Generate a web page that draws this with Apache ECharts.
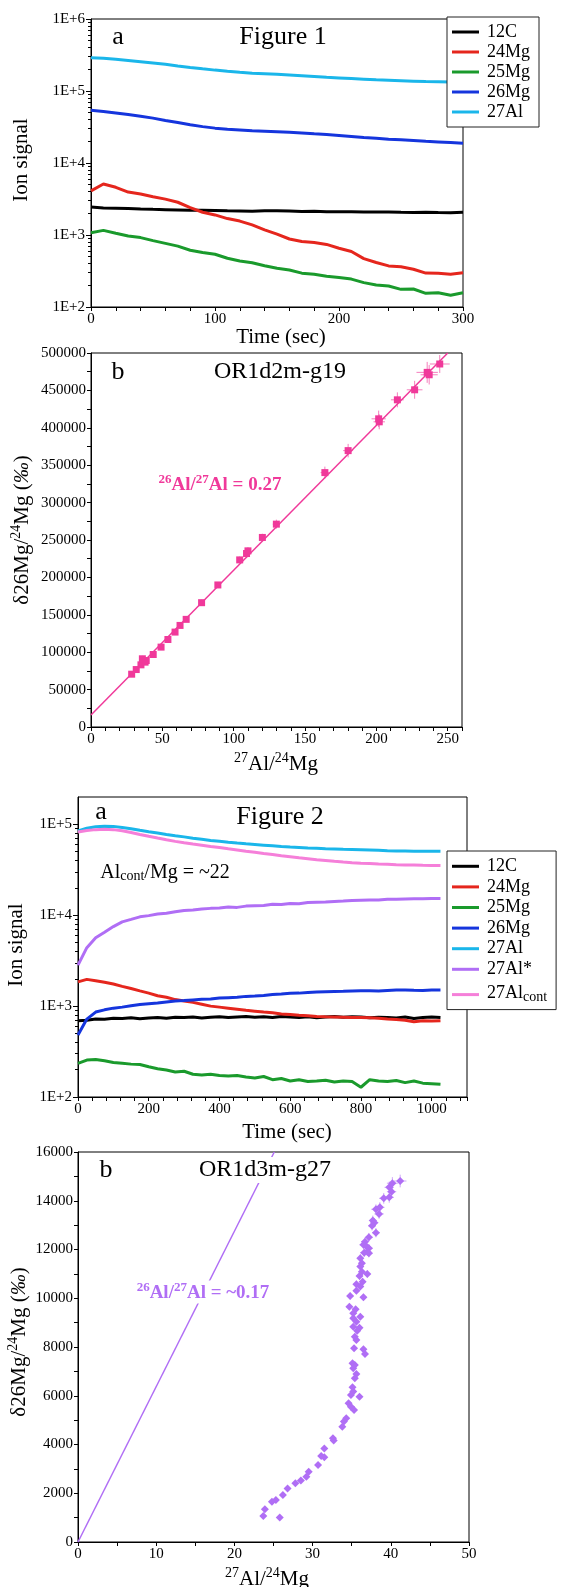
<!DOCTYPE html>
<html>
<head>
<meta charset="utf-8">
<script src="https://cdn.jsdelivr.net/npm/echarts@6/dist/echarts.min.js"></script>
<style>
  html, body { margin: 0; padding: 0; background: #fff; }
  #c { width: 561px; height: 1587px; }
</style>
</head>
<body>
<div id="c"></div>
<script>
// ---------- Figure 1a: ion signals vs time ----------
const fig1Time = [0,10,20,30,40,50,60,70,80,90,100,110,120,130,140,150,160,170,180,190,200,210,220,230,240,250,260,270,280,290,300];
const fig1C12  = [2450,2380,2360,2340,2300,2270,2250,2230,2210,2200,2190,2170,2160,2140,2170,2180,2150,2120,2130,2110,2100,2110,2090,2080,2090,2070,2060,2070,2050,2040,2070];
const fig1Mg24 = [4100,5100,4600,3950,3700,3400,3150,2850,2400,2070,1900,1690,1560,1380,1180,1030,880,810,785,740,655,590,470,415,372,362,335,296,294,286,300];
const fig1Mg25 = [1077,1160,1060,970,920,835,765,700,615,570,540,475,436,412,375,345,327,295,285,268,257,244,218,202,196,176,178,155,158,146,158];
const fig1Mg26 = [54000,52000,49500,47000,44500,42000,39000,36500,34000,32000,30500,29500,28800,28000,27600,27200,26800,26200,25400,24800,24100,23400,22600,22000,21400,21000,20500,20000,19600,19200,18800];
const fig1Al27 = [290000,285000,275000,265000,255000,245000,235000,222000,212000,203000,195000,188000,182000,177000,174000,171000,167000,163000,159000,155000,152000,149000,146000,143000,141000,139000,137000,135000,134000,133000,130000];

// ---------- Figure 2a: ion signals vs time ----------
const fig2Time = [0,25,50,75,100,125,150,175,200,225,250,275,300,325,350,375,400,425,450,475,500,525,550,575,600,625,650,675,700,725,750,775,800,825,850,875,900,925,950,975,1000,1025];
const fig2C12  = [690,700,720,715,735,730,745,725,740,750,735,755,750,760,740,755,765,750,760,770,755,765,750,770,760,750,765,745,760,770,755,765,760,745,755,750,740,760,730,750,760,750];
const fig2Mg24 = [1850,1970,1900,1830,1750,1650,1560,1470,1390,1300,1250,1180,1140,1100,1050,1000,975,950,925,900,880,860,845,820,810,795,785,770,762,760,755,750,750,745,735,720,712,700,672,690,685,692];
const fig2Mg25 = [234,255,258,250,240,235,230,228,215,205,198,188,192,178,175,178,172,170,172,166,162,168,155,160,150,155,148,150,153,146,150,148,128,155,150,148,152,144,150,142,140,138];
const fig2Mg26 = [480,720,860,910,950,975,1010,1040,1060,1080,1110,1140,1150,1170,1190,1200,1225,1240,1255,1280,1290,1310,1340,1360,1385,1390,1410,1430,1440,1450,1455,1470,1475,1480,1470,1490,1500,1505,1495,1490,1500,1500];
const fig2Al27 = [84400,90500,94000,95500,95000,92500,89500,86000,83000,80200,77500,75000,72800,70500,68500,66500,65000,63500,62200,61000,60000,59000,58000,57000,56200,55600,55000,54500,54000,53600,53200,52900,52600,52200,51800,51300,50900,50800,50700,50600,50600,50500];
const fig2Al27Star = [2820,4400,5650,6500,7500,8450,9000,9600,9900,10300,10500,10900,11300,11400,11700,11900,12000,12300,12200,12600,12700,12800,13200,13100,13500,13400,13800,13900,14000,14200,14300,14500,14600,14700,14700,15000,15000,15100,15200,15150,15300,15250];
const fig2Al27Cont = [82200,85500,87500,88200,87500,85000,81500,77500,74000,70800,67800,65000,62800,60800,59000,57200,55500,53800,52200,50600,49200,47800,46500,45200,44000,42800,41800,40800,40000,39200,38500,37900,37400,37000,36600,36300,36000,35800,35600,35400,35300,35200];

// ---------- Figure 1b: OR1d2m-g19 isochron  [27Al/24Mg, d26Mg, err x, err y] ----------
const g19Points = [
  [28.5,70600,0.8,2500],[31.7,76800,0.8,2500],[35.0,83100,1.0,3000],[36.0,91200,1.5,4000],
  [37.9,86700,1.2,3500],[38.7,88900,1.2,3500],[43.6,96900,1.0,3000],[49.1,106800,1.0,3000],
  [53.9,117000,1.0,3000],[58.9,126900,1.0,3500],[62.4,135800,1.0,3500],[66.7,143900,1.2,3500],
  [77.5,166200,1.2,4000],[88.9,189900,1.5,4000],[104.2,223400,1.5,4500],[109.0,231900,2.0,5000],
  [110.0,235500,2.0,5000],[120.1,253400,2.0,5000],[129.9,271200,2.5,6000],[163.9,340100,3.0,8000],
  [180.2,369500,3.5,9000],[201.6,412000,5.0,11000],[202.0,408000,4.0,10000],[214.7,437400,4.5,10000],
  [226.8,450800,5.5,12000],[235.6,474100,7.5,14000],[237.0,470900,6.0,13000],[244.4,485300,7.0,12000]
];
const g19Fit = [[0,16000],[250,500000]];

// ---------- Figure 2b: OR1d3m-g27  [27Al/24Mg, d26Mg, err x, err y] ----------
const g27Points = [
  [41.2,14810,0.8,260],[40.2,14720,0.7,250],[39.8,14550,0.6,240],[40.1,14370,0.6,230],
  [39.8,14140,0.6,220],[39.1,14100,0.6,220],[38.6,13730,0.6,210],[38.1,13650,0.6,200],
  [38.5,13460,0.6,200],[37.7,13190,0.5,200],[37.9,13100,0.5,190],[37.6,12970,0.5,190],
  [38.1,12690,0.5,190],[37.2,12500,0.5,180],[36.7,12320,0.5,180],[36.5,12190,0.5,180],
  [36.9,12120,0.5,180],[37.2,12050,0.5,170],[37.0,11910,0.5,170],[36.6,11870,0.5,170],
  [37.2,11850,0.5,170],[36.1,11640,0.4,160],[36.3,11440,0.4,160],[36.1,11300,0.4,160],
  [36.3,11090,0.4,150],[37.0,11000,0.4,150],[36.0,10910,0.4,150],[36.4,10680,0.4,150],
  [35.6,10570,0.4,150],[36.1,10480,0.4,140],[35.6,10310,0.4,140],[36.5,10040,0.4,140],
  [34.8,10090,0.4,140],[34.7,9650,0.4,140],[35.5,9550,0.4,130],[35.2,9380,0.4,130],
  [36.1,9240,0.4,130],[35.2,9180,0.4,130],[35.6,9040,0.4,130],[35.2,8830,0.3,120],
  [36.0,8790,0.3,120],[35.7,8670,0.3,120],[35.4,8420,0.3,120],[35.6,8290,0.3,120],
  [35.3,7950,0.3,110],[36.5,7910,0.3,110],[36.7,7710,0.3,110],[35.1,7330,0.3,110],
  [35.4,7260,0.3,110],[35.2,7130,0.3,100],[35.6,6890,0.3,100],[35.4,6720,0.3,100],
  [35.1,6350,0.3,90],[35.2,6170,0.3,90],[34.9,6030,0.3,90],[36.0,5960,0.3,90],
  [34.6,5690,0.2,80],[34.9,5550,0.2,80],[35.3,5420,0.2,80],[34.3,5080,0.2,70],
  [34.0,4940,0.2,70],[33.8,4730,0.2,70],[32.6,4260,0.2,60],[32.7,4160,0.2,60],
  [31.5,3840,0.2,60],[31.1,3530,0.2,50],[31.5,3480,0.2,50],[30.7,3160,0.2,50],
  [29.5,2880,0.2,50],[29.2,2680,0.2,40],[28.5,2520,0.2,40],[27.8,2410,0.2,40],
  [26.8,2200,0.2,40],[26.2,1930,0.2,40],[25.3,1720,0.2,30],[24.8,1650,0.2,30],
  [23.9,1340,0.2,30],[23.7,1070,0.2,30],[25.8,1010,0.2,30]
];
const g27Line = [[0,0],[25.1,16000]];

// ---------- tick labels ----------
const fig1LogLabels = [100,1000,10000,100000,1000000];
const fig2LogLabels = [100,1000,10000,100000];

// ---------- styling ----------
const SERIF = '"Liberation Serif","Times New Roman",serif';
const INK = '#000';
const COLORS = {
  C12: '#000000', Mg24: '#e5261d', Mg25: '#1a9a2c', Mg26: '#1535dd',
  Al27: '#1ab6ea', Al27Star: '#b06ef5', Al27Cont: '#f57fd9',
  g19: '#f0399a', g27: '#b06ef5'
};

function linAxis(grid, min, max, step, labelStep, extra) {
  return Object.assign({
    type: 'value', gridIndex: grid, min: min, max: max, interval: step,
    axisLine: { show: true, onZero: false, lineStyle: { color: INK, width: 1 } },
    axisTick: { show: true, length: 4, lineStyle: { color: INK } },
    axisLabel: { color: INK, fontFamily: SERIF, fontSize: 15, margin: 5,
      formatter: v => (Math.abs(v % labelStep) < 1e-9 ? String(v) : '') },
    splitLine: { show: false }
  }, extra || {});
}

function logAxis(grid, min, max, labels) {
  return {
    type: 'log', logBase: 10, gridIndex: grid, position: 'left', min: min, max: max,
    axisLine: { show: true, onZero: false, lineStyle: { color: INK, width: 1 } },
    axisTick: { show: true, length: 5, customValues: labels, lineStyle: { color: INK } },
    axisLabel: { customValues: labels, color: INK, fontFamily: SERIF, fontSize: 15, margin: 6,
      formatter: v => '1E+' + Math.round(Math.log10(v)) },
    splitLine: { show: false }
  };
}

function logMinorAxis(grid, min, max) {
  const ticks = [];
  for (let p = Math.floor(Math.log10(min)); p < Math.ceil(Math.log10(max)); p++) {
    for (let k = 2; k <= 9; k++) {
      const v = k * Math.pow(10, p);
      if (v > min && v < max) ticks.push(v);
    }
  }
  return {
    type: 'log', logBase: 10, gridIndex: grid, position: 'left', min: min, max: max,
    axisLine: { show: false }, axisLabel: { show: false }, splitLine: { show: false },
    axisTick: { show: true, length: 3, customValues: ticks, lineStyle: { color: INK } }
  };
}

function trace(name, times, values, color, xi, yi) {
  return {
    type: 'line', name: name, xAxisIndex: xi, yAxisIndex: yi,
    data: times.map((t, i) => [t, values[i]]),
    symbol: 'none', showSymbol: false, silent: true, z: 3,
    lineStyle: { color: color, width: 3 }, itemStyle: { color: color }
  };
}

function errorBars(points, color, xi, yi) {
  return {
    type: 'custom', xAxisIndex: xi, yAxisIndex: yi, data: points, silent: true, z: 3,
    encode: { x: 0, y: 1 },
    renderItem: function (params, api) {
      const x = api.value(0), y = api.value(1), ex = api.value(2), ey = api.value(3);
      const l = api.coord([x - ex, y]), r = api.coord([x + ex, y]);
      const b = api.coord([x, y - ey]), t = api.coord([x, y + ey]);
      return { type: 'group', children: [
        { type: 'line', shape: { x1: l[0], y1: l[1], x2: r[0], y2: r[1] }, style: { stroke: color, lineWidth: 1 } },
        { type: 'line', shape: { x1: b[0], y1: b[1], x2: t[0], y2: t[1] }, style: { stroke: color, lineWidth: 1 } }
      ] };
    }
  };
}

function markers(points, color, symbol, size, xi, yi) {
  return {
    type: 'scatter', xAxisIndex: xi, yAxisIndex: yi, silent: true, z: 4,
    data: points.map(p => [p[0], p[1]]),
    symbol: symbol, symbolSize: size, itemStyle: { color: color, opacity: 1 }
  };
}

function fitLine(points, color, xi, yi) {
  return {
    type: 'line', xAxisIndex: xi, yAxisIndex: yi, data: points, silent: true, z: 2,
    symbol: 'none', showSymbol: false, lineStyle: { color: color, width: 1.5 }
  };
}

// text tokens for super/subscripts
function tk(size, extra) {
  return Object.assign({ fontSize: size, fontFamily: SERIF, lineHeight: size + 2, verticalAlign: 'bottom' }, extra || {});
}
function sup(size, extra) {
  return Object.assign({ fontSize: size, fontFamily: SERIF, lineHeight: size, verticalAlign: 'top' }, extra || {});
}

function txt(x, y, text, o) {
  o = o || {};
  const style = {
    text: text, fill: o.fill || INK,
    font: (o.weight || 'normal') + ' ' + (o.size || 21) + 'px ' + SERIF,
    align: 'center', verticalAlign: 'middle', textAlign: 'center', textVerticalAlign: 'middle'
  };
  if (o.rich) style.rich = o.rich;
  if (o.bg) { style.backgroundColor = o.bg; style.padding = [1, 3]; }
  return { type: 'text', x: x, y: y, rotation: o.rot || 0, z: 100, silent: true, style: style };
}

const ratioRich = (color) => ({
  m: tk(19, { fontWeight: 'bold', fill: color }),
  s: sup(13, { fontWeight: 'bold', fill: color })
});
const axisRich = {
  m: tk(21, { fill: INK }),
  s: sup(14, { fill: INK }),
  i: tk(21, { fill: INK, fontStyle: 'italic' })
};
const deltaName = '{m|δ26Mg/}{s|24}{m|Mg (}{i|‰}{m|)}';
const ratioName = '{s|27}{m|Al/}{s|24}{m|Mg}';

const legendBase = {
  orient: 'vertical', left: 447, itemGap: 0, itemWidth: 27, itemHeight: 3, icon: 'rect',
  borderColor: '#222', borderWidth: 1, backgroundColor: '#fff', selectedMode: false, z: 10
};

const option = {
  animation: false,
  backgroundColor: '#fff',
  textStyle: { fontFamily: SERIF },
  grid: [
    { left: 91, top: 19, width: 372, height: 288, show: true, borderColor: INK, borderWidth: 1 },
    { left: 91, top: 353, width: 371, height: 374, show: true, borderColor: INK, borderWidth: 1 },
    { left: 78, top: 797, width: 389, height: 300, show: true, borderColor: INK, borderWidth: 1 },
    { left: 78, top: 1152, width: 391, height: 390, show: true, borderColor: INK, borderWidth: 1 }
  ],
  xAxis: [
    linAxis(0, 0, 300, 20, 100),
    linAxis(1, 0, 260, 10, 50),
    linAxis(2, 0, 1100, 40, 200),
    linAxis(3, 0, 50, 5, 10)
  ],
  yAxis: [
    logAxis(0, 100, 1000000, fig1LogLabels),
    logMinorAxis(0, 100, 1000000),
    linAxis(1, 0, 500000, 25000, 50000, { position: 'left' }),
    logAxis(2, 100, 200000, fig2LogLabels),
    logMinorAxis(2, 100, 200000),
    linAxis(3, 0, 16000, 1000, 2000, { position: 'left' })
  ],
  legend: [
    Object.assign({}, legendBase, {
      top: 17, padding: [5, 9, 5, 5],
      data: ['12C', '24Mg', '25Mg', '26Mg', '27Al'],
      textStyle: { fontFamily: SERIF, fontSize: 18, color: INK, lineHeight: 20, padding: [0, 0, 0, 3] }
    }),
    Object.assign({}, legendBase, {
      top: 851, padding: [5, 9, 5, 5],
      data: ['12C', '24Mg', '25Mg', '26Mg', '27Al', '27Al*', '27Alcont'],
      formatter: name => (name === '27Alcont' ? '{m|27Al}{b|cont}' : name),
      textStyle: {
        fontFamily: SERIF, fontSize: 18, color: INK, lineHeight: 20.6, padding: [0, 0, 0, 3],
        rich: {
          m: { fontSize: 18, fontFamily: SERIF, lineHeight: 20, verticalAlign: 'top', fill: INK },
          b: { fontSize: 14, fontFamily: SERIF, lineHeight: 14, padding: [11, 0, 0, 0], verticalAlign: 'bottom', fill: INK }
        }
      }
    })
  ],
  series: [
    // Figure 1a
    trace('12C', fig1Time, fig1C12, COLORS.C12, 0, 0),
    trace('24Mg', fig1Time, fig1Mg24, COLORS.Mg24, 0, 0),
    trace('25Mg', fig1Time, fig1Mg25, COLORS.Mg25, 0, 0),
    trace('26Mg', fig1Time, fig1Mg26, COLORS.Mg26, 0, 0),
    trace('27Al', fig1Time, fig1Al27, COLORS.Al27, 0, 0),
    // Figure 1b
    fitLine(g19Fit, COLORS.g19, 1, 2),
    errorBars(g19Points, 'rgba(240,57,154,0.65)', 1, 2),
    markers(g19Points, COLORS.g19, 'rect', 7, 1, 2),
    // Figure 2a
    trace('27Al', fig2Time, fig2Al27, COLORS.Al27, 2, 3),
    trace('27Alcont', fig2Time, fig2Al27Cont, COLORS.Al27Cont, 2, 3),
    trace('27Al*', fig2Time, fig2Al27Star, COLORS.Al27Star, 2, 3),
    trace('12C', fig2Time, fig2C12, COLORS.C12, 2, 3),
    trace('24Mg', fig2Time, fig2Mg24, COLORS.Mg24, 2, 3),
    trace('26Mg', fig2Time, fig2Mg26, COLORS.Mg26, 2, 3),
    trace('25Mg', fig2Time, fig2Mg25, COLORS.Mg25, 2, 3),
    // Figure 2b
    fitLine(g27Line, COLORS.g27, 3, 5),
    errorBars(g27Points, 'rgba(176,110,245,0.6)', 3, 5),
    markers(g27Points, COLORS.g27, 'diamond', 8, 3, 5)
  ],
  graphic: { elements: [
    // Figure 1a
    txt(118, 37, 'a', { size: 26 }),
    txt(283, 37, 'Figure 1', { size: 26 }),
    txt(21, 160, 'Ion signal', { rot: Math.PI / 2 }),
    txt(281, 337, 'Time (sec)'),
    // Figure 1b
    txt(118, 372, 'b', { size: 26 }),
    txt(280, 372, 'OR1d2m-g19', { size: 24 }),
    txt(220, 484, '{s|26}{m|Al/}{s|27}{m|Al = 0.27}', { rich: ratioRich(COLORS.g19), fill: COLORS.g19, weight: 'bold', size: 19 }),
    txt(21, 530, deltaName, { rot: Math.PI / 2, rich: axisRich }),
    txt(276, 763, ratioName, { rich: axisRich }),
    // Figure 2a
    txt(101, 812, 'a', { size: 26 }),
    txt(280, 817, 'Figure 2', { size: 26 }),
    txt(165, 873, '{m|Al}{b|cont}{m|/Mg = ~22}', { rich: {
      m: { fontSize: 20, fontFamily: SERIF, lineHeight: 20, verticalAlign: 'top', fill: INK },
      b: { fontSize: 14, fontFamily: SERIF, lineHeight: 14, padding: [11, 0, 0, 0], verticalAlign: 'bottom', fill: INK }
    } }),
    txt(16, 945, 'Ion signal', { rot: Math.PI / 2 }),
    txt(287, 1132, 'Time (sec)'),
    // Figure 2b
    txt(106, 1170, 'b', { size: 26 }),
    txt(265, 1170, 'OR1d3m-g27', { size: 24, bg: '#fff' }),
    txt(203, 1292, '{s|26}{m|Al/}{s|27}{m|Al = ~0.17}', { rich: ratioRich(COLORS.g27), fill: COLORS.g27, weight: 'bold', size: 19, bg: '#fff' }),
    txt(18, 1342, deltaName, { rot: Math.PI / 2, rich: axisRich }),
    txt(267, 1578, ratioName, { rich: axisRich })
  ] }
};

const chart = echarts.init(document.getElementById('c'), null, { renderer: 'canvas', width: 561, height: 1587 });
chart.setOption(option);
</script>
</body>
</html>
